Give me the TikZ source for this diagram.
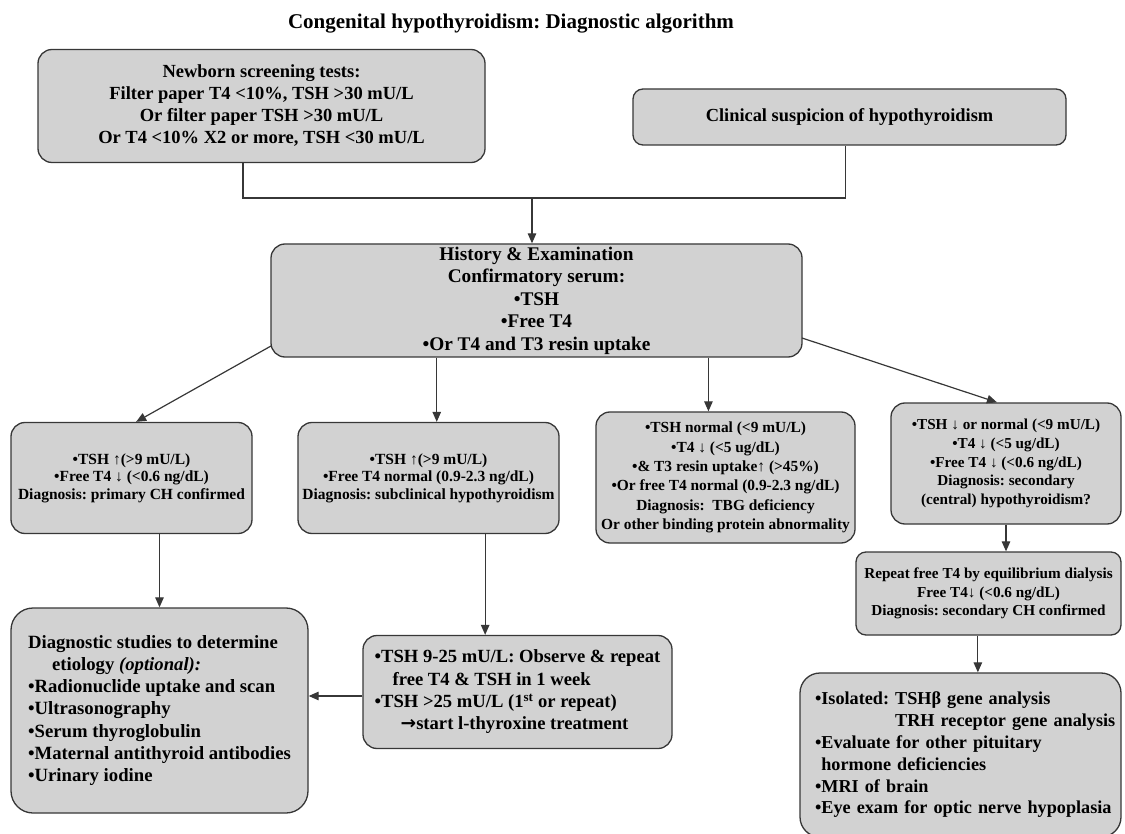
\documentclass[tikz,border=0pt]{standalone}
\usepackage{fontspec}
\setmainfont{Liberation Serif}
\newfontfamily\arrowfont{DejaVu Sans}
\usetikzlibrary{arrows.meta,calc}
\definecolor{boxfill}{RGB}{210,210,210}
\definecolor{boxline}{RGB}{55,55,55}
\frenchspacing
\begin{document}
\begin{tikzpicture}[x=1pt,y=-1pt,
  box/.style={draw=boxline,fill=boxfill,line width=1.3pt,rounded corners=14pt,inner sep=0pt,font=\bfseries},
  conn/.style={draw=boxline,line width=1.2pt},
  arr/.style={conn,-{Triangle[length=10pt,width=8.5pt]}}]
\useasboundingbox (0,0) rectangle (1125,834);
\node[font=\bfseries\fontsize{21}{25}\selectfont] (title) at (511,24) {Congenital hypothyroidism: Diagnostic algorithm};

\node[box,minimum width=447pt,minimum height=113pt,align=center,font=\bfseries\fontsize{18.5}{22}\selectfont] (a) at (261.5,106)
 {Newborn screening tests:\\Filter paper T4 <10\%, TSH >30 mU/L\\Or filter paper TSH >30 mU/L\\Or T4 <10\% X2 or more, TSH <30 mU/L};
\node[box,rounded corners=10pt,minimum width=433pt,minimum height=56pt,font=\bfseries\fontsize{18.4}{22}\selectfont] (b) at (849.5,117)
 {Clinical suspicion of hypothyroidism};

\node[box,minimum width=531pt,minimum height=113pt,align=center,font=\bfseries\fontsize{19.3}{22.5}\selectfont] (c) at (536.5,300.5)
 {History \& Examination\\Confirmatory serum:\\•TSH\\•Free T4\\•Or T4 and T3 resin uptake};

\node[box,minimum width=241pt,minimum height=111pt,align=center,font=\bfseries\fontsize{15.5}{17.5}\selectfont] (d1) at (131.5,478)
 {•TSH ↑(>9 mU/L)\\•Free T4 ↓ (<0.6 ng/dL)\\Diagnosis: primary CH confirmed};
\node[box,minimum width=261pt,minimum height=111pt,align=center,font=\bfseries\fontsize{15.5}{17.5}\selectfont] (d2) at (428.5,478)
 {•TSH ↑(>9 mU/L)\\•Free T4 normal (0.9-2.3 ng/dL)\\Diagnosis: subclinical hypothyroidism};
\node[box,minimum width=259pt,minimum height=131pt,align=center,font=\bfseries\fontsize{15.4}{19.3}\selectfont] (d3) at (725.5,477.5)
 {•TSH normal (<9 mU/L)\\•T4 ↓ (<5 ug/dL)\\•\& T3 resin uptake↑ (>45\%)\\•Or free T4 normal (0.9-2.3 ng/dL)\\Diagnosis:\ \ TBG deficiency\\Or other binding protein abnormality};
\node[box,minimum width=230pt,minimum height=121pt,align=center,font=\bfseries\fontsize{15.2}{18.6}\selectfont] (d4) at (1006,463.5)
 {•TSH ↓ or normal (<9 mU/L)\\•T4 ↓ (<5 ug/dL)\\•Free T4 ↓ (<0.6 ng/dL)\\Diagnosis: secondary\\(central) hypothyroidism?};

\node[box,rounded corners=10pt,minimum width=265pt,minimum height=83pt,align=center,font=\bfseries\fontsize{15.2}{18.5}\selectfont] (e) at (988.5,593.5)
 {Repeat free T4 by equilibrium dialysis\\Free T4↓ (<0.6 ng/dL)\\Diagnosis: secondary CH confirmed};

\node[box,rounded corners=20pt,minimum width=321pt,minimum height=164pt,text width=291pt,inner xsep=15pt,align=left,font=\bfseries\fontsize{18.2}{21.8}\selectfont] (f) at (960.5,755)
 {\mbox{•Isolated: TSHβ gene analysis}\\\mbox{\hphantom{•Isolated: }TRH receptor gene analysis}\\\mbox{•Evaluate for other pituitary}\\\mbox{\hphantom{•}hormone deficiencies}\\\mbox{•MRI of brain}\\\mbox{•Eye exam for optic nerve hypoplasia}};

\node[box,rounded corners=22pt,minimum width=297pt,minimum height=205pt,align=left,font=\bfseries\fontsize{18.7}{22.2}\selectfont] (g) at (159.5,710.5)
 {Diagnostic studies to determine\\\hspace*{24pt}etiology \textit{(optional):}\\•Radionuclide uptake and scan\\•Ultrasonography\\•Serum thyroglobulin\\•Maternal antithyroid antibodies\\•Urinary iodine};

\node[box,minimum width=309pt,minimum height=113pt,align=left,font=\bfseries\fontsize{18.6}{22.3}\selectfont] (h) at (517.5,692)
 {•TSH 9-25 mU/L: Observe \& repeat\\\hspace*{18pt}free T4 \& TSH in 1 week\\•TSH >25 mU/L (1\textsuperscript{st} or repeat)\\\hspace*{26pt}{\arrowfont\bfseries →}start l-thyroxine treatment};

% connectors
\coordinate (aout) at ($(a.south west)!0.4586!(a.south east)$);
\coordinate (bout) at ($(b.south west)!0.49!(b.south east)$);
\coordinate (j) at (532,198);
\draw[conn] (aout) |- (j) -| (bout);
\draw[arr] (j) -- (j |- c.north);

\coordinate (cl) at (271,346);
\coordinate (cr) at (802,338);
\coordinate (cm1) at ($(c.south west)!0.3126!(c.south east)$);
\coordinate (cm2) at ($(c.south west)!0.823!(c.south east)$);
\draw[arr] (cl) -- ($(d1.north west)!0.519!(d1.north east)$);
\draw[arr] (cm1) -- (cm1 |- d2.north);
\draw[arr] (cm2) -- (cm2 |- d3.north);
\draw[arr] (cr) -- ($(d4.north west)!0.461!(d4.north east)$);

\draw[arr] (g.north |- d1.south) -- (g.north);
\coordinate (d2out) at ($(d2.south west)!0.716!(d2.south east)$);
\draw[arr] (d2out) -- (d2out |- h.north);
\coordinate (hin) at ($(h.west)+(0,4)$);
\draw[arr] (hin) -- (hin -| g.east);

\draw[arr] (d4.south) -- (d4.south |- e.north);
\coordinate (eout) at ($(e.south west)!0.46!(e.south east)$);
\draw[arr] (eout) -- (eout |- f.north);
\end{tikzpicture}
\end{document}
